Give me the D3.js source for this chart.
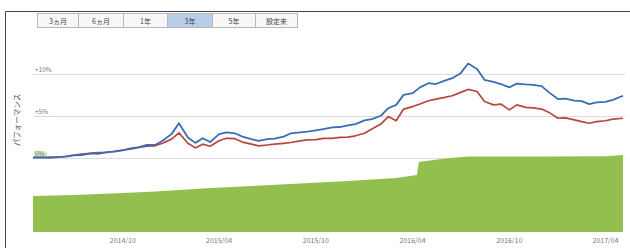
<!DOCTYPE html>
<html>
<head>
<meta charset="utf-8">
<script src="https://cdn.jsdelivr.net/npm/d3@7"></script>
<style>
  body { margin: 0; background: #fff; }
  text { font-family: "Noto Sans CJK JP", "Noto Sans", sans-serif; }
</style>
</head>
<body>
<svg id="chart" width="630" height="248"></svg>
<script>
// period buttons
const buttons = ["3ヵ月", "6ヵ月", "1年", "3年", "5年", "設定来"];
const selectedButton = "3年";

// performance series, half-monthly (%)
const dates = [
  "2014-04-14", "2014-05-01", "2014-05-15", "2014-06-01", "2014-06-15", "2014-07-01", "2014-07-15", "2014-08-01", "2014-08-15", "2014-09-01",
  "2014-09-15", "2014-10-01", "2014-10-15", "2014-11-01", "2014-11-15", "2014-12-01", "2014-12-15", "2015-01-01", "2015-01-15", "2015-02-01",
  "2015-02-15", "2015-03-01", "2015-03-15", "2015-04-01", "2015-04-15", "2015-05-01", "2015-05-15", "2015-06-01", "2015-06-15", "2015-07-01",
  "2015-07-15", "2015-08-01", "2015-08-15", "2015-09-01", "2015-09-15", "2015-10-01", "2015-10-15", "2015-11-01", "2015-11-15", "2015-12-01",
  "2015-12-15", "2016-01-01", "2016-01-15", "2016-02-01", "2016-02-15", "2016-03-01", "2016-03-15", "2016-04-01", "2016-04-15", "2016-05-01",
  "2016-05-15", "2016-06-01", "2016-06-15", "2016-07-01", "2016-07-15", "2016-08-01", "2016-08-15", "2016-09-01", "2016-09-15", "2016-10-01",
  "2016-10-15", "2016-11-01", "2016-11-15", "2016-12-01", "2016-12-15", "2017-01-01", "2017-01-15", "2017-02-01", "2017-02-15", "2017-03-01",
  "2017-03-15", "2017-04-01", "2017-04-15", "2017-05-04"
];
const fundValues = [
  0.0, 0.02, -0.05, 0.05, 0.1, 0.25, 0.3, 0.5, 0.45, 0.65,
  0.7, 0.85, 1.1, 1.25, 1.5, 1.5, 2.0, 2.8, 4.1, 2.4,
  1.75, 2.3, 1.85, 2.8, 3.0, 2.9, 2.5, 2.2, 2.0, 2.2,
  2.25, 2.5, 2.9, 3.0, 3.1, 3.25, 3.4, 3.6, 3.65, 3.85,
  4.0, 4.45, 4.6, 5.0, 5.9, 6.3, 7.5, 7.7, 8.4, 8.9,
  8.8, 9.2, 9.5, 10.1, 11.25, 10.6, 9.3, 9.05, 8.8, 8.4,
  8.85, 8.75, 8.7, 8.55, 7.8, 7.0, 7.05, 6.8, 6.75, 6.4,
  6.6, 6.65, 6.9, 7.4
];
const benchValues = [
  0.0, 0.0, 0.05, 0.05, 0.15, 0.3, 0.4, 0.5, 0.6, 0.6,
  0.75, 0.9, 1.0, 1.2, 1.35, 1.4, 1.7, 2.2, 2.95, 1.7,
  1.15, 1.6, 1.35, 2.0, 2.3, 2.25, 1.85, 1.6, 1.4, 1.5,
  1.6, 1.7, 1.8, 2.0, 2.1, 2.15, 2.3, 2.3, 2.4, 2.45,
  2.6, 2.9, 3.4, 4.0, 4.9, 4.4, 5.8, 6.1, 6.4, 6.8,
  7.0, 7.2, 7.4, 7.8, 8.15, 7.9, 6.7, 6.3, 6.4, 5.7,
  6.3, 6.0, 5.95, 5.8, 5.4, 4.7, 4.75, 4.5, 4.3, 4.1,
  4.3, 4.4, 4.6, 4.7
];

// net assets (green area)
const assetDates = [
  "2014-04-14", "2014-07-01", "2014-10-01", "2014-12-01", "2015-03-01", "2015-06-01", "2015-09-01", "2015-12-01",
  "2016-03-01", "2016-04-09", "2016-04-13", "2016-06-01", "2016-07-15", "2016-12-01", "2017-04-01", "2017-05-04"
];
const assetValues = [36, 37, 39, 40.5, 43.5, 46, 48.5, 51, 54, 57, 70, 73.5, 75.5, 75.5, 75.8, 77];

const yTicks = [0, 5, 10];
const yTickLabels = ["0%", "+5%", "+10%"];
const xTicks = ["2014-10-01", "2015-04-01", "2015-10-01", "2016-04-01", "2016-10-01", "2017-04-01"];
const xTickLabels = ["2014/10", "2015/04", "2015/10", "2016/04", "2016/10", "2017/04"];

const svg = d3.select("#chart");
const parse = d3.timeParse("%Y-%m-%d");

const left = 33, right = 623;
const x = d3.scaleTime()
    .domain([parse(dates[0]), parse(dates[dates.length - 1])])
    .range([left, right]);
const y = d3.scaleLinear().domain([0, 10]).range([157.5, 74]);
const yA = d3.scaleLinear().domain([0, 100]).range([232, 132]);

// frame
svg.append("path")
    .attr("d", "M5.5,248 L5.5,11.5 L630,11.5")
    .attr("fill", "none").attr("stroke", "#444").attr("stroke-width", 1);

// buttons
const btnX = [37, 78, 123, 167, 212, 255, 297];
const btn = svg.append("g").selectAll("g").data(buttons).enter().append("g");
btn.append("rect")
    .attr("x", function(d, i){ return btnX[i] + 0.5; })
    .attr("y", 13.5)
    .attr("width", function(d, i){ return btnX[i + 1] - btnX[i]; })
    .attr("height", 14)
    .attr("fill", function(d){ return d == selectedButton ? "#b9cde9" : "#f7f7f7"; })
    .attr("stroke", "#b8b8b8");
btn.append("text")
    .attr("x", function(d, i){ return (btnX[i] + btnX[i + 1]) / 2 + 0.5; })
    .attr("y", 23.5)
    .attr("text-anchor", "middle")
    .attr("font-size", 7)
    .attr("fill", "#444")
    .text(function(d){ return d; });

// grid
svg.append("g").selectAll("line").data(yTicks).enter().append("line")
    .attr("x1", left).attr("x2", 625)
    .attr("y1", function(d){ return Math.round(y(d)) + 0.5; })
    .attr("y2", function(d){ return Math.round(y(d)) + 0.5; })
    .attr("stroke", "#dcdcdc").attr("stroke-width", 1);

// asset area
const assets = assetDates.map(function(d, i){ return {date: parse(d), v: assetValues[i]}; });
svg.append("path")
    .datum(assets)
    .attr("fill", "#92bf4e")
    .attr("d", d3.area()
        .x(function(d){ return x(d.date); })
        .y0(yA(0))
        .y1(function(d){ return yA(d.v); }));

// y labels
const yl = svg.append("g");
yl.append("rect")
    .attr("x", 34).attr("y", y(0) - 6).attr("width", 13).attr("height", 6)
    .attr("fill", "#d4e6bd");
yl.selectAll("text").data(yTicks).enter().append("text")
    .attr("x", 35)
    .attr("y", function(d){ return y(d) - 2; })
    .attr("font-size", 6.5)
    .attr("fill", "#777")
    .text(function(d, i){ return yTickLabels[i]; });

svg.append("text")
    .attr("transform", "translate(20,120) rotate(-90)")
    .attr("text-anchor", "middle")
    .attr("font-size", 7.5)
    .attr("fill", "#555")
    .text("パフォーマンス");

// series
const line = d3.line()
    .x(function(d){ return x(d.date); })
    .y(function(d){ return y(d.v); });
const bench = dates.map(function(d, i){ return {date: parse(d), v: benchValues[i]}; });
const fund = dates.map(function(d, i){ return {date: parse(d), v: fundValues[i]}; });
svg.append("path").datum(bench)
    .attr("fill", "none").attr("stroke", "#b8473b").attr("stroke-width", 1.7)
    .attr("stroke-linejoin", "round").attr("d", line);
svg.append("path").datum(fund)
    .attr("fill", "none").attr("stroke", "#3a6db4").attr("stroke-width", 1.8)
    .attr("stroke-linejoin", "round").attr("d", line);

// x labels
svg.append("g").selectAll("text").data(xTicks).enter().append("text")
    .attr("x", function(d){ return x(parse(d)); })
    .attr("y", 243)
    .attr("text-anchor", "middle")
    .attr("font-size", 7)
    .attr("fill", "#777")
    .text(function(d, i){ return xTickLabels[i]; });
</script>
</body>
</html>
